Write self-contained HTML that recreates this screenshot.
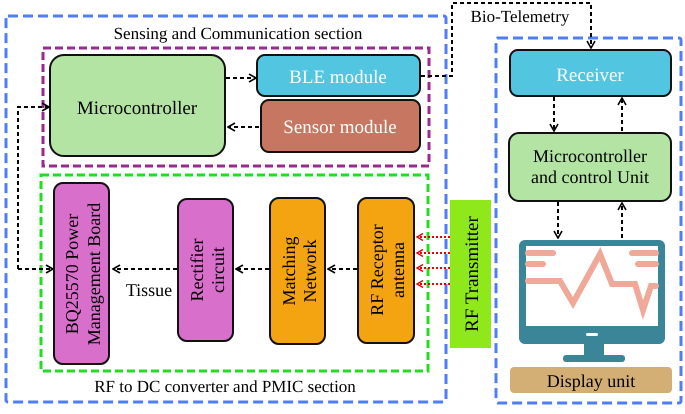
<!DOCTYPE html>
<html><head><style>
body{margin:0;background:#fff}
text{font-family:"Liberation Serif","DejaVu Serif",serif;text-rendering:geometricPrecision}
</style></head><body>
<svg width="685" height="409" viewBox="0 0 685 409" xmlns="http://www.w3.org/2000/svg" font-family="Liberation Serif, serif">
<defs>
<marker id="a" markerWidth="9" markerHeight="9" refX="8" refY="4.5" orient="auto" markerUnits="userSpaceOnUse"><path d="M1,0.5 L8,4.5 L1,8.5" fill="none" stroke="#000" stroke-width="1.6"/></marker>
<marker id="r" markerWidth="8" markerHeight="8" refX="7" refY="4" orient="auto" markerUnits="userSpaceOnUse"><path d="M1,0.5 L7,4 L1,7.5" fill="none" stroke="#e00" stroke-width="1.4"/></marker>
</defs>
<rect x="6" y="16" width="440" height="386" fill="none" stroke="#4f7df5" stroke-width="3" stroke-dasharray="10,5" rx="2"/>
<rect x="43" y="48" width="386" height="118" fill="none" stroke="#9a2a8f" stroke-width="3" stroke-dasharray="8,4"/>
<rect x="41" y="175" width="387" height="196" fill="none" stroke="#22dd22" stroke-width="3" stroke-dasharray="8,4"/>
<rect x="496" y="38" width="185" height="365" fill="none" stroke="#4f7df5" stroke-width="3" stroke-dasharray="10,5" rx="2"/>
<text x="238" y="39" font-size="17" text-anchor="middle">Sensing and Communication section</text>
<text x="225" y="392" font-size="17" text-anchor="middle">RF to DC converter and PMIC section</text>
<rect x="50" y="55" width="175" height="101" rx="14" fill="#b3e4a3" stroke="#111" stroke-width="2"/>
<text x="137" y="114" font-size="19" text-anchor="middle">Microcontroller</text>
<rect x="257" y="55" width="163" height="41" rx="8" fill="#52c6e0" stroke="#111" stroke-width="2"/>
<text x="338" y="83" font-size="19" fill="#fff" text-anchor="middle">BLE module</text>
<rect x="261" y="100" width="159" height="52" rx="8" fill="#c77761" stroke="#111" stroke-width="2"/>
<text x="340" y="133" font-size="19" fill="#fff" text-anchor="middle">Sensor module</text>
<g stroke="#000" stroke-width="2" stroke-dasharray="4,3" fill="none">
<line x1="226" y1="78" x2="256" y2="78" marker-end="url(#a)"/>
<line x1="259" y1="127" x2="228" y2="127" marker-end="url(#a)"/>
<line x1="177" y1="269" x2="113" y2="269" marker-end="url(#a)"/>
<line x1="269" y1="269" x2="236" y2="269" marker-end="url(#a)"/>
<line x1="357" y1="269" x2="328" y2="269" marker-end="url(#a)"/>
<polyline points="18,269 18,107 49,107" marker-end="url(#a)"/>
<line x1="18" y1="269" x2="53" y2="269" marker-end="url(#a)"/>
<polyline points="421,76 452,76 452,3 591,3 591,48" marker-end="url(#a)"/>
<line x1="554" y1="97" x2="554" y2="131" marker-end="url(#a)"/>
<line x1="622" y1="131" x2="622" y2="98" marker-end="url(#a)"/>
<line x1="558" y1="202" x2="558" y2="238" marker-end="url(#a)"/>
<line x1="622" y1="238" x2="622" y2="203" marker-end="url(#a)"/>
</g>
<rect x="54" y="183" width="55" height="181" rx="9" fill="#d76fcb" stroke="#111" stroke-width="2"/>
<text transform="translate(78,274) rotate(-90)" font-size="18" text-anchor="middle">BQ25570 Power</text>
<text transform="translate(100,274) rotate(-90)" font-size="18" text-anchor="middle">Management Board</text>
<rect x="178" y="199" width="55" height="142" rx="9" fill="#d76fcb" stroke="#111" stroke-width="2"/>
<text transform="translate(203,270) rotate(-90)" font-size="18" text-anchor="middle">Rectifier</text>
<text transform="translate(224,270) rotate(-90)" font-size="18" text-anchor="middle">circuit</text>
<rect x="270" y="198" width="55" height="146" rx="9" fill="#f4a411" stroke="#111" stroke-width="2"/>
<text transform="translate(295,271) rotate(-90)" font-size="18" text-anchor="middle">Matching</text>
<text transform="translate(316,271) rotate(-90)" font-size="18" text-anchor="middle">Network</text>
<rect x="358" y="198" width="56" height="145" rx="9" fill="#f4a411" stroke="#111" stroke-width="2"/>
<text transform="translate(383,270) rotate(-90)" font-size="18" text-anchor="middle">RF Receptor</text>
<text transform="translate(404,270) rotate(-90)" font-size="18" text-anchor="middle">antenna</text>
<text x="149" y="296" font-size="18" text-anchor="middle">Tissue</text>
<rect x="450" y="200" width="41" height="148" fill="#8ee81a"/>
<text transform="translate(478,274) rotate(-90)" font-size="19" text-anchor="middle">RF Transmitter</text>
<g stroke="#e00" stroke-width="2" stroke-dasharray="2,2">
<line x1="450" y1="237" x2="417" y2="237" marker-end="url(#r)"/>
<line x1="450" y1="253" x2="417" y2="253" marker-end="url(#r)"/>
<line x1="450" y1="268" x2="417" y2="268" marker-end="url(#r)"/>
<line x1="450" y1="284" x2="417" y2="284" marker-end="url(#r)"/>
</g>
<text x="520" y="22" font-size="17" text-anchor="middle">Bio-Telemetry</text>
<rect x="510" y="50" width="161" height="46" rx="8" fill="#52c6e0" stroke="#111" stroke-width="2"/>
<text x="590" y="81" font-size="19" fill="#fff" text-anchor="middle">Receiver</text>
<rect x="509" y="133" width="162" height="68" rx="10" fill="#b3e4a3" stroke="#111" stroke-width="2"/>
<text x="590" y="162" font-size="18" text-anchor="middle">Microcontroller</text>
<text x="590" y="183" font-size="18" text-anchor="middle">and control Unit</text>
<rect x="519" y="240" width="146" height="104" rx="6" fill="#3a8597"/>
<rect x="526" y="246" width="132" height="80" fill="#fff"/>
<rect x="584" y="344" width="20" height="12" fill="#3a8597"/>
<rect x="563" y="355" width="62" height="7" rx="3" fill="#3a8597"/>
<rect x="586" y="333" width="12" height="3" rx="1.5" fill="#fff"/>
<g stroke="#f0a898" stroke-width="6" stroke-linecap="round" fill="none">
<line x1="528" y1="253" x2="553" y2="253"/>
<line x1="528" y1="264" x2="543" y2="264"/>
<line x1="632" y1="253" x2="656" y2="253"/>
<line x1="638" y1="264" x2="656" y2="264"/>
<polyline points="528,281 560,281 573,303 600,254 612,284 635,284 643,310 651,286 656,286"/>
</g>
<rect x="510" y="367" width="162" height="26" rx="4" fill="#d3af75"/>
<text x="591" y="387" font-size="18" text-anchor="middle">Display unit</text>
</svg>
</body></html>
